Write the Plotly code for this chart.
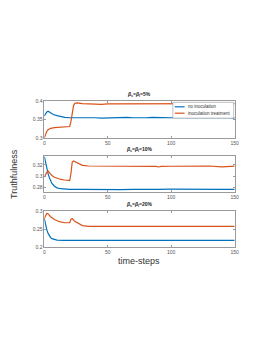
import plotly.graph_objects as go

# ---------- data ----------
t1_blue = [0,1,2,3,4,5,7,10,13,16,20,25,30,35,40,45,50,55,60,65,70,75,80,85,90,95,100,105,110,115,120,125,130,135,140,145,150]
v1_blue = [0.360,0.366,0.371,0.373,0.371,0.368,0.364,0.361,0.358,0.356,0.355,0.355,0.357,0.356,0.355,0.354,0.355,0.354,0.355,0.356,0.355,0.354,0.355,0.356,0.355,0.354,0.355,0.356,0.355,0.354,0.355,0.356,0.355,0.354,0.355,0.356,0.354]
t1_orange = [0,1,2,3,5,8,12,16,19,20,21,22,23,24,26,30,35,40,45,50,55,60,65,70,75,80,85,90,95,100,105,110,115,120,125,130,135,140,145,150]
v1_orange = [0.300,0.312,0.318,0.322,0.326,0.328,0.329,0.330,0.331,0.331,0.345,0.370,0.388,0.395,0.396,0.394,0.393,0.394,0.392,0.393,0.393,0.392,0.394,0.393,0.392,0.393,0.394,0.393,0.392,0.393,0.394,0.392,0.393,0.393,0.392,0.394,0.393,0.392,0.393,0.394]

t2_blue = [0,1,2,3,4,5,6,8,10,13,16,20,30,40,50,60,70,80,90,100,110,120,130,140,150]
v2_blue = [0.335,0.323,0.313,0.304,0.297,0.291,0.287,0.282,0.279,0.2775,0.277,0.2765,0.2765,0.276,0.2765,0.276,0.2765,0.276,0.2765,0.2768,0.2765,0.276,0.2768,0.2765,0.2765]
t2_orange = [0,1,2,3,4,6,8,10,13,16,19,20,21,22,23,25,28,30,35,40,50,60,70,80,88,90,92,100,110,120,130,140,145,150]
v2_orange = [0.298,0.303,0.307,0.309,0.306,0.301,0.298,0.296,0.294,0.293,0.292,0.292,0.305,0.325,0.327,0.325,0.321,0.319,0.318,0.318,0.3175,0.318,0.3175,0.318,0.3172,0.3162,0.3172,0.3175,0.318,0.3175,0.318,0.3165,0.3175,0.3178]

t3_blue = [0,1,2,3,4,5,6,8,10,15,20,30,40,50,60,70,80,90,100,110,120,130,140,150]
v3_blue = [0.280,0.262,0.248,0.238,0.231,0.226,0.223,0.220,0.219,0.218,0.218,0.2178,0.218,0.2178,0.218,0.2178,0.2175,0.218,0.2178,0.218,0.2178,0.218,0.2178,0.218]
t3_orange = [0,1,2,3,5,8,12,16,19,20,21,22,24,27,30,35,40,50,60,70,80,90,100,110,120,130,140,150]
v3_orange = [0.280,0.290,0.295,0.293,0.285,0.277,0.271,0.268,0.267,0.268,0.278,0.280,0.272,0.265,0.260,0.258,0.258,0.2578,0.258,0.2578,0.258,0.258,0.2578,0.258,0.258,0.2578,0.258,0.258]

titles = ["<i>β</i><sub>s</sub>=<i>β</i><sub>I</sub>=5%", "<i>β</i><sub>s</sub>=<i>β</i><sub>I</sub>=10%", "<i>β</i><sub>s</sub>=<i>β</i><sub>I</sub>=20%"]
y_ranges = [[0.3, 0.4], [0.272, 0.335], [0.2, 0.3]]
y_ticks = [[0.3, 0.35, 0.4], [0.28, 0.3, 0.32], [0.2, 0.25, 0.3]]
y_ticktext = [["0.3", "0.35", "0.4"], ["0.28", "0.3", "0.32"], ["0.2", "0.25", "0.3"]]
x_ticks = [0, 50, 100, 150]
names = ["no inoculation", "inoculation treatment"]

BLUE = "#0072BD"
ORANGE = "#D95319"
OFF = 8  # page body margin
W, H = 265, 345
panels_px = [(100, 137), (156, 192), (212, 248)]
x0_px, x1_px = 44, 238


def px_x(p):
    return (p - OFF) / W


def px_y(p):
    return 1 - (p - OFF) / H


fig = go.Figure()
series = [(t1_blue, v1_blue, t1_orange, v1_orange), (t2_blue, v2_blue, t2_orange, v2_orange), (t3_blue, v3_blue, t3_orange, v3_orange)]
for i, (tb, vb, to, vo) in enumerate(series):
    xa = "x" if i == 0 else f"x{i+1}"
    ya = "y" if i == 0 else f"y{i+1}"
    fig.add_trace(go.Scatter(x=tb, y=vb, mode="lines", line=dict(color=BLUE, width=1.2), name=names[0], showlegend=False, xaxis=xa, yaxis=ya))
    fig.add_trace(go.Scatter(x=to, y=vo, mode="lines", line=dict(color=ORANGE, width=1.2), name=names[1], showlegend=False, xaxis=xa, yaxis=ya))

layout = dict(width=W, height=H, margin=dict(l=0, r=0, t=0, b=0), paper_bgcolor="white", plot_bgcolor="white",
              font=dict(family="Liberation Sans, Arial", size=5, color="#404040"), showlegend=False)
axis_common = dict(showline=True, linecolor="#9a9a9a", linewidth=0.6, mirror="ticks", ticks="inside", ticklen=2,
                   tickcolor="#9a9a9a", tickwidth=0.6, showgrid=False, zeroline=False, tickfont=dict(size=5, color="#555"))
annotations = []
for i, (top, bot) in enumerate(panels_px):
    sfx = "" if i == 0 else str(i + 1)
    layout["xaxis" + sfx] = dict(axis_common, domain=[px_x(x0_px), px_x(x1_px)], range=[0, 150], tickvals=x_ticks,
                                 anchor="y" + sfx)
    layout["yaxis" + sfx] = dict(axis_common, domain=[px_y(bot), px_y(top)], range=y_ranges[i], tickvals=y_ticks[i],
                                 ticktext=y_ticktext[i], anchor="x" + sfx)
    annotations.append(dict(text="<b>" + titles[i] + "</b>", x=px_x((x0_px + x1_px) / 2), y=px_y(top - 1), xref="paper", yref="paper",
                            xanchor="center", yanchor="bottom", showarrow=False, font=dict(size=5, color="#222")))
annotations.append(dict(text="Truthfulness", x=px_x(13), y=px_y(174), xref="paper", yref="paper", textangle=-90,
                        xanchor="center", yanchor="middle", showarrow=False, font=dict(size=9, color="#333")))
annotations.append(dict(text="time-steps", x=px_x(141), y=px_y(262), xref="paper", yref="paper",
                        xanchor="center", yanchor="middle", showarrow=False, font=dict(size=9, color="#333")))

# manual legend box
lg_l, lg_r, lg_t, lg_b = 175, 237, 101, 117
shapes = [dict(type="rect", xref="paper", yref="paper", x0=px_x(lg_l), x1=px_x(lg_r), y0=px_y(lg_b), y1=px_y(lg_t),
               line=dict(color="#9a9a9a", width=0.6), fillcolor="white", layer="above")]
for k, (col, nm) in enumerate(zip([BLUE, ORANGE], names)):
    yy = 105.5 + k * 6.5
    shapes.append(dict(type="line", xref="paper", yref="paper", x0=px_x(177), x1=px_x(187), y0=px_y(yy), y1=px_y(yy),
                       line=dict(color=col, width=1.2), layer="above"))
    annotations.append(dict(text=nm, x=px_x(188.5), y=px_y(yy), xref="paper", yref="paper", xanchor="left", yanchor="middle",
                            showarrow=False, font=dict(size=4.5, color="#333")))
layout["shapes"] = shapes
layout["annotations"] = annotations
fig.update_layout(**layout)
fig.write_html("out.html")
